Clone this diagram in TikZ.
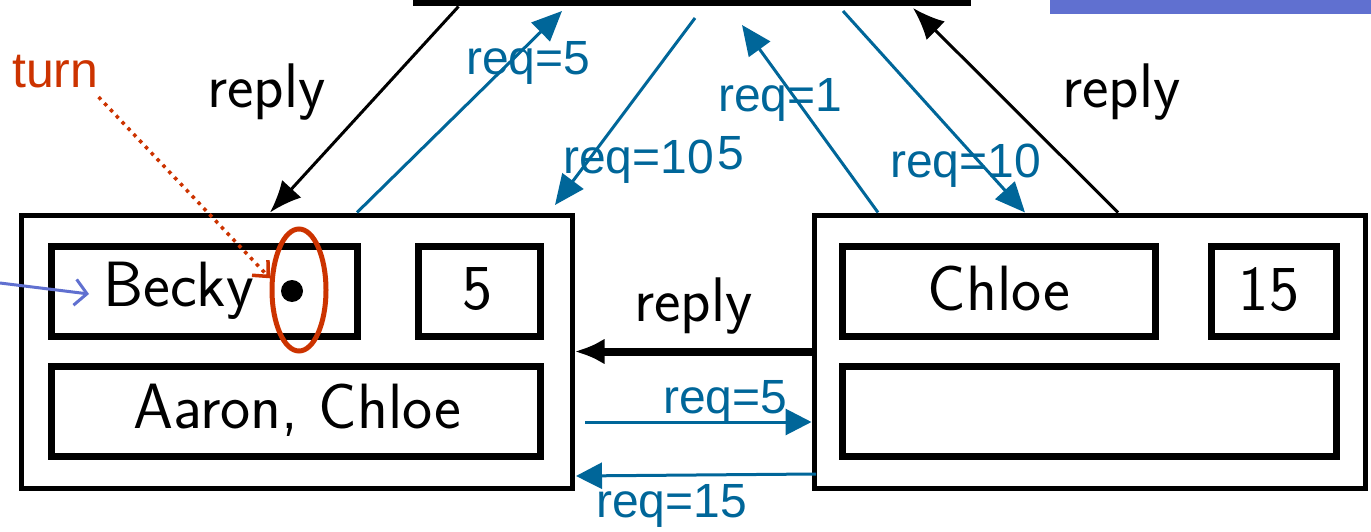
\documentclass[tikz,border=0pt]{standalone}
\usepackage{fontspec}
\newfontfamily\arialf{Liberation Sans}
\usetikzlibrary{arrows.meta,calc,shapes.geometric}
\definecolor{reqblue}{RGB}{0,102,153}
\definecolor{turnred}{RGB}{204,51,0}
\definecolor{slate}{RGB}{96,112,208}

\begin{document}
\begin{tikzpicture}[x=1pt,y=-1pt,
  outerbox/.style={draw, line width=5pt, inner sep=0pt},
  cellbox/.style={draw, line width=7pt, inner sep=0pt},
  celltext/.style={font=\sffamily\fontsize{64}{64}\selectfont, inner sep=0pt},
  replytext/.style={font=\sffamily\fontsize{63}{63}\selectfont, inner sep=0pt, anchor=base west},
  msgtext/.style={font=\arialf\fontsize{48}{48}\selectfont, text=reqblue, inner sep=0pt, anchor=base west},
  reqarrow/.style={draw=reqblue, line width=3pt, -{Triangle[length=30pt,width=26pt]}},
  reqflat/.style={draw=reqblue, line width=3pt, -{Triangle[length=26pt,width=26pt]}},
  replyarrow/.style={draw=black, line width=3pt, -{Latex[length=32pt,width=26pt]}},
]
\useasboundingbox (0,0) rectangle (1371,532);
\clip (0,0) rectangle (1371,532);

% shared server box (only its lower edge is in view) and the slide bar
\node[cellbox, minimum width=551pt, minimum height=200pt] (T) at (691.5,-97) {};
\fill[slate] (1050,0) rectangle (1371,14);

% process on the left
\node[outerbox, minimum width=551pt, minimum height=273pt] (L) at (296.5,351.5) {};
\node[cellbox, minimum width=306pt, minimum height=90pt] (lname) at (204,291) {};
\node[cellbox, minimum width=122pt, minimum height=90pt] (lclock) at (479,291) {};
\node[cellbox, minimum width=489pt, minimum height=90pt] (lqueue) at (295.5,411) {};
\node[celltext, anchor=base west] (becky) at (103,306) {Becky};
\node[celltext, anchor=base] (five) at (478,309) {5};
\node[celltext, anchor=base] (aaron) at (297,428) {Aaron, Chloe};
\node[circle, fill=black, minimum size=22pt, inner sep=0pt] (dot) at (292,291) {};

% process on the right
\node[outerbox, minimum width=551pt, minimum height=273pt] (R) at (1089.5,351.5) {};
\node[cellbox, minimum width=313pt, minimum height=90pt] (rname) at (998.5,291) {};
\node[cellbox, minimum width=125pt, minimum height=90pt] (rclock) at (1273.5,291) {};
\node[cellbox, minimum width=494pt, minimum height=90pt] (rqueue) at (1089,411) {};
\node[celltext, anchor=base] (chloe) at (999,310) {Chloe};
\node[celltext, anchor=base] (fifteen) at (1269,310) {15};

% messages between the processes and the server
\draw[replyarrow] ($(T.south west)+(46,0)$) -- ($(L.north west)+(251.5,0)$);
\draw[reqarrow] ($(L.north west)+(338.5,0)$) -- ($(T.south west)+(149.5,4.5)$);
\draw[reqarrow] ($(T.south west)+(282.5,11.5)$) -- ($(L.north east)+(-19.5,-7.5)$);
\draw[reqarrow] ($(R.north west)+(66.5,0)$) -- ($(T.south west)+(329.5,18.5)$);
\draw[reqarrow] ($(T.south west)+(430.5,4.5)$) -- ($(R.north west)+(213.5,0)$);
\draw[replyarrow] ($(R.north west)+(306.5,0)$) -- ($(T.south west)+(500.5,1.5)$);

% messages between the two processes
\draw[line width=8pt, -{Latex[length=30pt,width=26pt]}] (R.west) -- (L.east);
\draw[reqflat] ($(L.east)+(10.5,70.5)$) -- ($(R.west)+(0,70.5)$);
\draw[reqflat] ($(R.west)+(4.5,122.5)$) -- ($(L.east)+(1.5,124.5)$);

% message labels
\node[replytext] (lreply) at (207,108) {reply};
\node[replytext] (rreply) at (1062,108) {reply};
\node[replytext] (mreply) at (634,321) {reply};
\node[msgtext] (lreq) at (466,75) {req=5};
\node[msgtext] (creq) at (718,112) {req=1};
\node[msgtext] (dreq) at (563,174) {req=10};
\node[msgtext] (dreqfive) at (717,170) {5};
\node[msgtext] (rreq) at (890,177) {req=10};
\node[msgtext] (mreq) at (663,413) {req=5};
\node[msgtext] (breq) at (596,517) {req=15};

% turn marker
\node[ellipse, draw=turnred, line width=5pt, minimum width=54pt, minimum height=122pt, inner sep=0pt] (ring) at (299,290) {};
\node[font=\arialf\fontsize{50}{50}\selectfont, text=turnred, anchor=base west, inner sep=0pt] (turn) at (12,88) {turn};
\draw[turnred, line width=3.5pt, dash pattern=on 3.5pt off 5pt, -{Straight Barb[length=12pt,width=22pt]}]
  ($(turn.base east)+(0,9)$) -- (ring.158);

% pointer to the process name
\coordinate (pointer) at (0,283);
\draw[slate, line width=3pt, -{Straight Barb[length=12pt,width=26pt]}] (pointer) -- ($(becky.base west)+(-14,-12)$);
\end{tikzpicture}
\end{document}
